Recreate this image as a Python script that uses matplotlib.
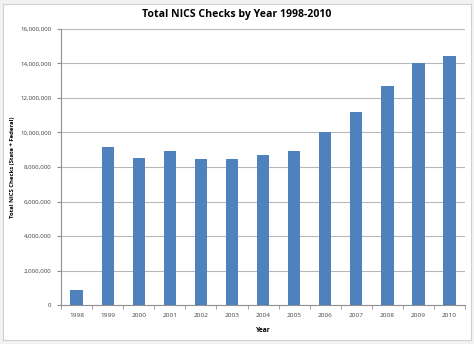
import matplotlib
matplotlib.use("Agg")
import matplotlib.pyplot as plt
from matplotlib.ticker import FuncFormatter, FixedLocator
import numpy as np

# NICS checks per year (state + federal)
years = ["1998", "1999", "2000", "2001", "2002", "2003", "2004",
         "2005", "2006", "2007", "2008", "2009", "2010"]
checks = [892840, 9138123, 8543037, 8910191, 8454322, 8481588, 8687671,
          8952945, 10036933, 11177753, 12709023, 14033824, 14409616]

plt.rcParams['font.family'] = ['Open Sans', 'DejaVu Sans']

fig = plt.figure(figsize=(4.74, 3.44), dpi=100, facecolor="#f2f2f2")
# white chart panel with thin border
panel = fig.add_axes([0.006, 0.012, 0.988, 0.976])
panel.set_facecolor("white")
panel.set_xticks([])
panel.set_yticks([])
for s in panel.spines.values():
    s.set_color("#d0d0d0")
    s.set_linewidth(0.8)

ax = fig.add_axes([0.129, 0.113, 0.852, 0.803])
x = np.arange(len(years))
ax.bar(x, checks, width=0.4, color="#4f81bd", zorder=3)

ax.set_xlim(-0.5, len(years) - 0.5)
ax.set_ylim(0, 16000000)
ax.set_yticks(np.arange(0, 16000001, 2000000))
ax.yaxis.set_major_formatter(FuncFormatter(lambda v, p: "{:,}".format(int(v))))
ax.grid(axis="y", color="#b8b8b8", linewidth=0.8, zorder=0)

ax.set_xticks(x)
ax.set_xticklabels(years)
ax.xaxis.set_minor_locator(FixedLocator(np.arange(-0.5, len(years), 1)))
ax.tick_params(axis="x", which="major", length=0, labelsize=4.6, colors="#404040", pad=6)
ax.tick_params(axis="x", which="minor", length=3, color="#909090")
ax.tick_params(axis="y", length=3, color="#909090", labelsize=4.4, labelcolor="#404040", pad=4)

for side in ["top", "right"]:
    ax.spines[side].set_visible(False)
ax.spines["left"].set_color("#909090")
ax.spines["bottom"].set_color("#909090")

fig.text(0.5, 1 - 14 / 344, "Total NICS Checks by Year 1998-2010",
         fontsize=7.6, fontweight="bold", ha="center", va="center")
ax.set_xlabel("Year", fontsize=4.8, fontweight="bold")
ax.xaxis.set_label_coords(0.5, -0.08)
ax.set_ylabel("Total NICS Checks (State + Federal)", fontsize=4.2, fontweight="bold")
ax.yaxis.set_label_coords(-0.114, 0.5)

fig.savefig("out.png", dpi=100, facecolor=fig.get_facecolor())
